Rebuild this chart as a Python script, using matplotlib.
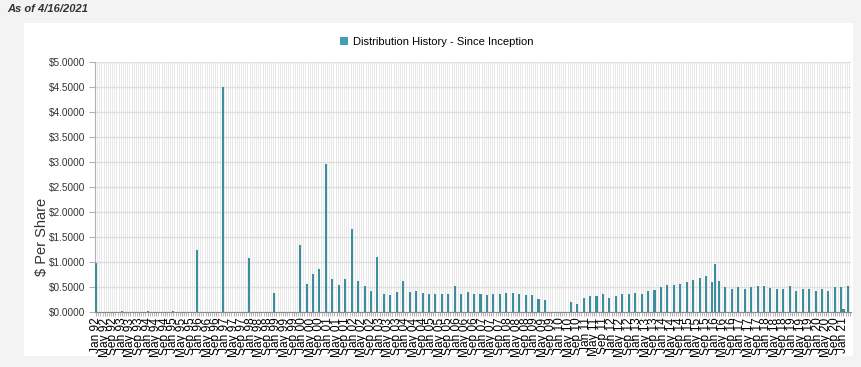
import matplotlib
matplotlib.use("Agg")
import matplotlib.pyplot as plt
from matplotlib.patches import Rectangle
import pandas as pd
import numpy as np

plt.rcParams['font.family'] = ['Liberation Sans', 'DejaVu Sans']

# distribution dates (year-month) and amounts in $ per share
pay_months = [
    "1992-01", "1993-01", "1994-01", "1995-01", "1995-12", "1996-12", "1997-12", "1998-12",
    "1999-12", "2000-03", "2000-06", "2000-09", "2000-12", "2001-03", "2001-06", "2001-09",
    "2001-12", "2002-03", "2002-06", "2002-09", "2002-12", "2003-03", "2003-06", "2003-09",
    "2003-12", "2004-03", "2004-06", "2004-09", "2004-12", "2005-03", "2005-06", "2005-09",
    "2005-12", "2006-03", "2006-06", "2006-09", "2006-12", "2007-03", "2007-06", "2007-09",
    "2007-12", "2008-03", "2008-06", "2008-09", "2008-12", "2009-03", "2009-06",
    "2010-06", "2010-09", "2010-12", "2011-03", "2011-06", "2011-09", "2011-12", "2012-03",
    "2012-06", "2012-09", "2012-12", "2013-03", "2013-06", "2013-09", "2013-12", "2014-03",
    "2014-06", "2014-09", "2014-12", "2015-03", "2015-06", "2015-09", "2015-12", "2016-01",
    "2016-03", "2016-06", "2016-09", "2016-12", "2017-03", "2017-06", "2017-09", "2017-12",
    "2018-03", "2018-06", "2018-09", "2018-12", "2019-03", "2019-06", "2019-09", "2019-12",
    "2020-03", "2020-06", "2020-09", "2020-12", "2021-01", "2021-03",
]
amounts = [
    0.98, 0.02, 0.02, 0.02, 1.24, 4.50, 1.09, 0.38,
    1.34, 0.56, 0.76, 0.86, 2.97, 0.66, 0.54, 0.67,
    1.66, 0.62, 0.52, 0.42, 1.11, 0.36, 0.34, 0.41,
    0.62, 0.41, 0.42, 0.39, 0.37, 0.37, 0.36, 0.37,
    0.52, 0.37, 0.41, 0.36, 0.37, 0.35, 0.37, 0.37,
    0.38, 0.39, 0.36, 0.34, 0.34, 0.27, 0.25,
    0.20, 0.17, 0.29, 0.32, 0.32, 0.36, 0.29, 0.32,
    0.37, 0.37, 0.39, 0.37, 0.42, 0.45, 0.50, 0.54,
    0.55, 0.57, 0.60, 0.64, 0.69, 0.72, 0.61, 0.96,
    0.62, 0.51, 0.47, 0.51, 0.46, 0.51, 0.52, 0.52,
    0.49, 0.47, 0.47, 0.52, 0.43, 0.46, 0.46, 0.43,
    0.47, 0.43, 0.51, 0.50, 0.06, 0.52,
]
first_month = "1992-01"
last_month = "2021-04"
as_of = "As of 4/16/2021"
series_name = "Distribution History - Since Inception"

# monthly category axis
months = pd.period_range(first_month, last_month, freq="M")
series = pd.Series(0.0, index=months)
series[pd.PeriodIndex(pay_months, freq="M")] = amounts

bar_color = "#3a8e9d"

fig = plt.figure(figsize=(8.61, 3.67), dpi=100, facecolor="#f3f3f3")
panel = Rectangle((24 / 861, 1 - 356 / 367), 829 / 861, 333 / 367,
                  transform=fig.transFigure, facecolor="white",
                  edgecolor="none", zorder=-10)
fig.patches.append(panel)

ax = fig.add_axes([95 / 861, 1 - 312 / 367, 756 / 861, 250 / 367])
ax.set_facecolor("white")

x = np.arange(len(months))
ax.bar(x, series.values, width=0.95, color=bar_color, zorder=3)

ax.set_xlim(-0.5, len(months) - 0.5)
ax.set_ylim(0, 5)

# vertical lines every month, horizontal every $0.50
for xi in x:
    ax.axvline(xi + 0.5, color="#e8e8e8", lw=0.7, zorder=1)
ax.set_yticks(np.arange(0, 5.01, 0.5))
ax.yaxis.grid(True, color="#dedede", lw=1.0, zorder=2)
ax.set_yticklabels([f"${v:.4f}" for v in np.arange(0, 5.01, 0.5)])

label_pos = x[::4]
ax.set_xticks(label_pos)
ax.set_xticklabels([m.strftime("%b %y") for m in months[::4]], rotation=90, fontsize=8.6)
ax.set_xticks(x, minor=True)
ax.tick_params(axis="x", which="both", length=3, color="#b0b0b0", pad=1)
ax.tick_params(axis="y", length=4, color="#b0b0b0", labelsize=7.2, labelcolor="#333333", pad=3)

for s in ["top", "right"]:
    ax.spines[s].set_visible(False)
ax.spines["left"].set_color("#b0b0b0")
ax.spines["bottom"].set_color("#888888")

ax.set_ylabel("$ Per Share", fontsize=10.5, color="#333333")
ax.yaxis.set_label_coords(-0.061, 0.30)

handle = Rectangle((0, 0), 1, 1, facecolor="#42a0b2")
fig.legend([handle], [series_name], loc="center", bbox_to_anchor=(437 / 861, 1 - 42 / 367),
           frameon=False, fontsize=8, handlelength=0.7, handleheight=0.7, handletextpad=0.5)

fig.text(7 / 861, 1 - 9 / 367, as_of, fontsize=8, style="italic", weight="bold",
         color="#333333", va="center", ha="left")

fig.savefig("out.png", dpi=100, facecolor=fig.get_facecolor())
